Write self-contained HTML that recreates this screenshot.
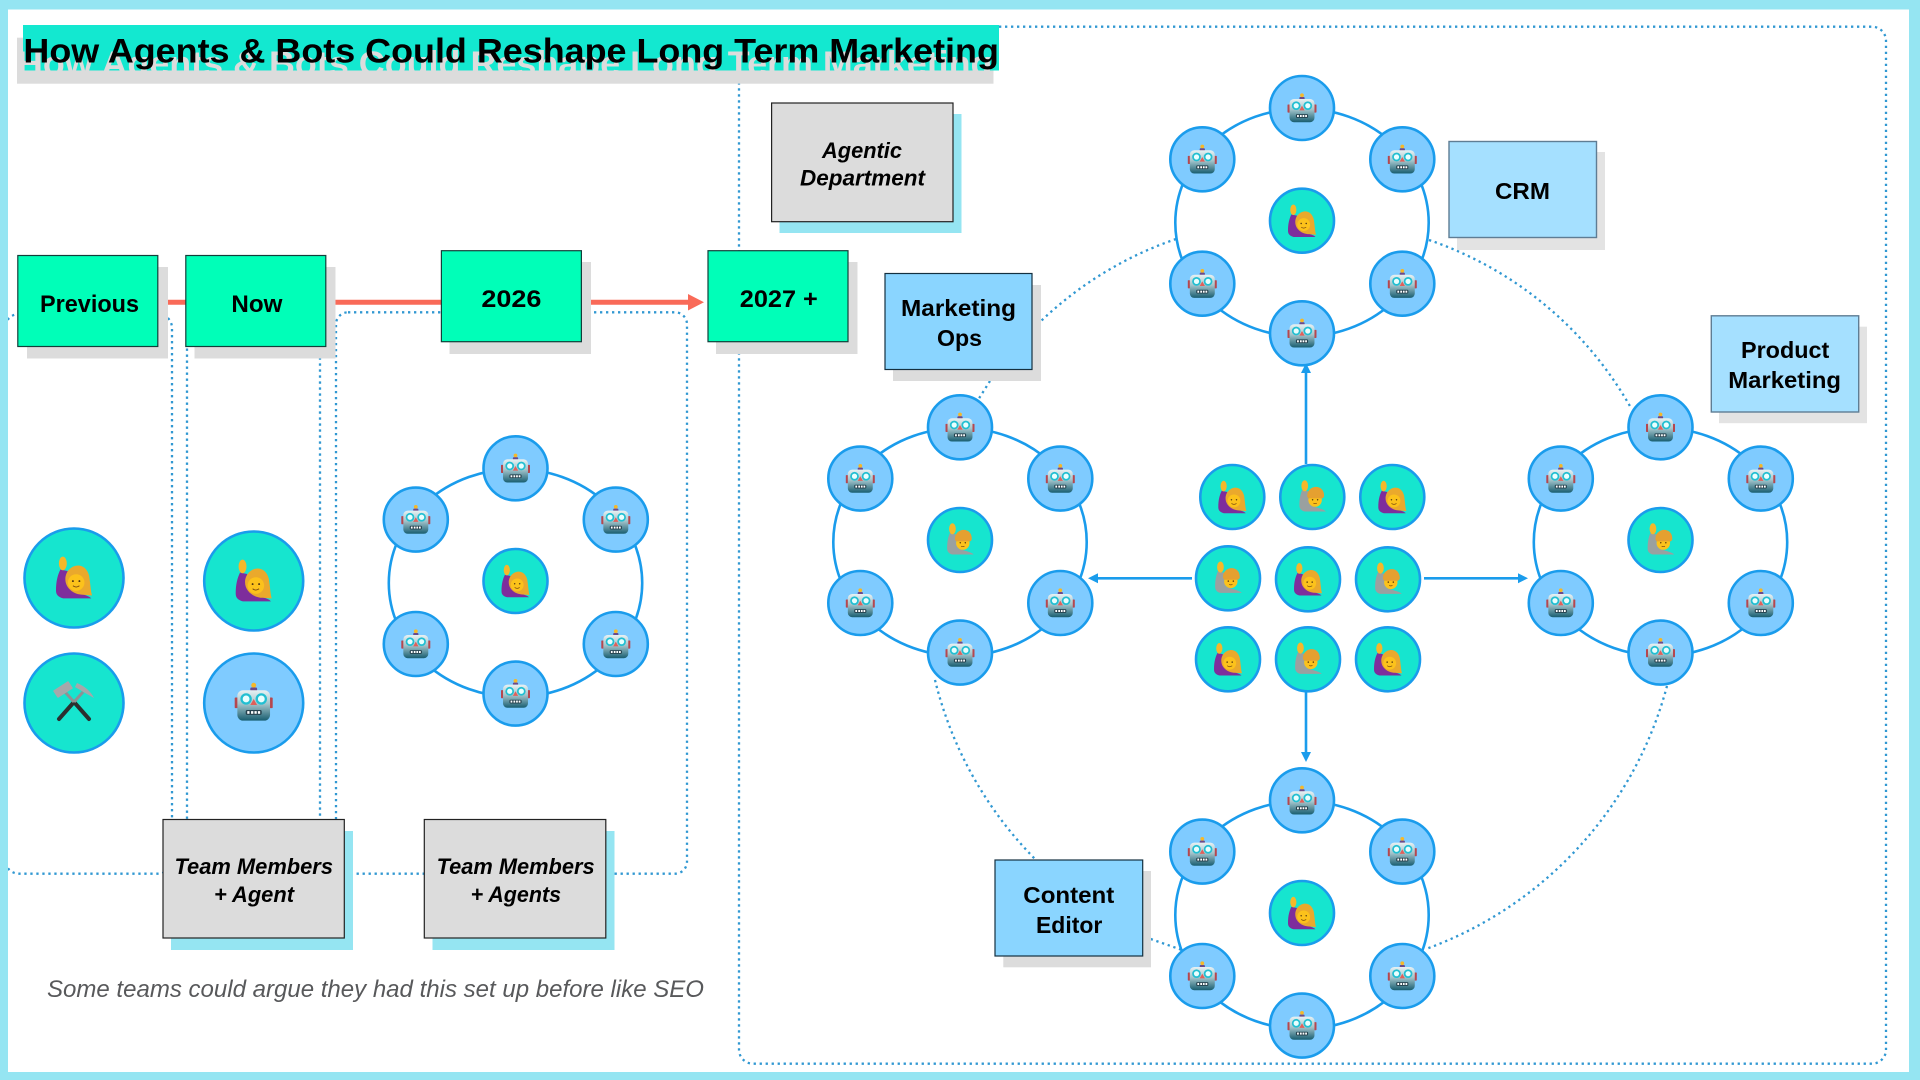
<!DOCTYPE html>
<html><head><meta charset="utf-8"><title>How Agents &amp; Bots Could Reshape Long Term Marketing</title>
<style>
html,body{margin:0;padding:0;background:#fff}
svg{display:block}
text{font-family:"Liberation Sans",sans-serif;font-weight:700;fill:#000}
</style></head><body>
<svg xmlns="http://www.w3.org/2000/svg" width="1920" height="1080" viewBox="0 0 1920 1080">
<defs>
<linearGradient id="rg" gradientUnits="userSpaceOnUse" x1="0" y1="-30" x2="0" y2="48"><stop offset="0" stop-color="#e6f0f2"/><stop offset=".45" stop-color="#a3c4cb"/><stop offset="1" stop-color="#1b6072"/></linearGradient>
<filter id="bl" x="-5%" y="-300%" width="110%" height="700%"><feGaussianBlur stdDeviation="2.5"/></filter>
<g id="robot">
<circle cx="0" cy="-44" r="6.5" fill="#f5b82a"/><rect x="-9" y="-38" width="18" height="9" rx="3" fill="#6a4a8c"/>
<rect x="-50" y="-12" width="9" height="28" rx="2" fill="#b5474f"/><rect x="41" y="-12" width="9" height="28" rx="2" fill="#b5474f"/>
<rect x="-43" y="-31" width="86" height="80" rx="15" fill="url(#rg)"/>
<circle cx="-20" cy="-8" r="12" fill="#e8ffff" stroke="#22bfd2" stroke-width="6"/><circle cx="20" cy="-8" r="12" fill="#e8ffff" stroke="#22bfd2" stroke-width="6"/>
<polygon points="0,-8 -9,8 9,8" fill="#e0605a"/>
<rect x="-21" y="21" width="42" height="13" rx="4" fill="#24404c"/>
<rect x="-17" y="24" width="6" height="7" fill="#fff"/><rect x="-7" y="24" width="6" height="7" fill="#fff"/><rect x="2" y="24" width="6" height="7" fill="#fff"/><rect x="11" y="24" width="6" height="7" fill="#fff"/>
</g>
<g id="woman">
<path d="M-50 36C-50 10-45-8-38-22L-18-18C-20 0-18 20-8 36C10 44 40 48 48 58L-30 58C-44 54-50 48-50 36Z" fill="#7e2d9c"/>
<ellipse cx="-31" cy="-39" rx="11" ry="19" fill="#f5b82a"/>
<path d="M-24 5C-24-35 30-52 42-5C46 20 46 35 50 50L25 48C0 48-24 30-24 5Z" fill="#eaa92c"/>
<circle cx="6" cy="14" r="23" fill="#fcc21b"/>
<circle cx="-3" cy="10" r="2.6" fill="#4a2f10"/><circle cx="15" cy="10" r="2.6" fill="#4a2f10"/>
<path d="M-3 23Q6 30 15 23" fill="none" stroke="#7a4a10" stroke-width="2.5"/>
</g>
<g id="man">
<path d="M-46 30C-46 5-42-12-36-25L-14-20C-16 0-14 18-6 30C12 38 40 42 49 52L-28 52C-40 48-46 42-46 30Z" fill="#9aa0a0"/>
<ellipse cx="-27" cy="-40" rx="12" ry="20" fill="#f5b82a"/>
<circle cx="10" cy="11" r="24" fill="#fcc21b"/>
<path d="M-18-2C-20-45 44-50 42-2C40 3 36 5 34 5L-14 5Z" fill="#e5a030"/>
<circle cx="1" cy="10" r="2.6" fill="#4a2f10"/><circle cx="19" cy="10" r="2.6" fill="#4a2f10"/>
<path d="M4 22Q10 25 16 22" fill="none" stroke="#7a4a10" stroke-width="2.5"/>
</g>
<g id="bot"><circle r="32" fill="#7fcbff" stroke="#1a9cec" stroke-width="2.6"/><use href="#robot" transform="scale(.29)"/></g>
<g id="wn"><circle r="32" fill="#16e5cf" stroke="#1a9cec" stroke-width="2.6"/><use href="#woman" transform="scale(.28)"/></g>
<g id="mn"><circle r="32" fill="#16e5cf" stroke="#1a9cec" stroke-width="2.6"/><use href="#man" transform="scale(.28)"/></g>
<g id="cluster">
<ellipse cx="0" cy="2" rx="126.7" ry="114" fill="none" stroke="#1a9cec" stroke-width="2.6"/>
<use href="#bot" x="0" y="-112.7"/><use href="#bot" x="-99.7" y="-61.4"/><use href="#bot" x="100.3" y="-61.4"/>
<use href="#bot" x="-99.7" y="63"/><use href="#bot" x="100.3" y="63"/><use href="#bot" x="0" y="112.6"/>
</g>
</defs>

<rect width="1920" height="1080" fill="#fff"/>

<!-- dotted frames -->
<g fill="none" stroke="#3198d2" stroke-width="2.3" stroke-dasharray="2.3 3.7">
<rect x="5" y="314" width="167" height="559.7" rx="14"/>
<rect x="187" y="290" width="133" height="590" rx="10"/>
<rect x="336" y="312.3" width="351" height="561.4" rx="12"/>
<rect x="739" y="26.7" width="1147" height="1037" rx="14"/>
<path d="M1176 239A368 368 0 0 0 1030 332"/>
<path d="M1429 240A368 368 0 0 1 1631 408"/>
<path d="M1667 686A385 385 0 0 1 1426 949"/>
<path d="M935 680A385 385 0 0 0 1038 862"/>
<path d="M990 381L978 400"/>
<path d="M1145 937L1182 950"/>
</g>

<!-- page border -->
<g fill="#95e5f2">
<rect x="0" y="0" width="1920" height="9.5"/>
<rect x="0" y="1072" width="1920" height="8"/>
<rect x="0" y="0" width="8" height="1080"/>
<rect x="1909" y="0" width="11" height="1080"/>
</g>

<!-- timeline arrow -->
<path d="M168 307H690" stroke="#999" stroke-opacity=".35" stroke-width="5" filter="url(#bl)"/>
<path d="M168 302.3H690" stroke="#f96a58" stroke-width="5"/>
<polygon points="688,294 704,302.3 688,310.5" fill="#f96a58"/>

<!-- title -->
<rect x="17" y="37.7" width="976.5" height="46" fill="#dcdcdc"/>
<rect x="23" y="25" width="976" height="45.5" fill="#13e8d0"/>
<text x="17" y="75" font-size="34" textLength="975.5" lengthAdjust="spacingAndGlyphs" style="fill:#dcdcdc">How Agents &amp; Bots Could Reshape Long Term Marketing</text>
<text x="23.4" y="62.3" font-size="34" textLength="975.5" lengthAdjust="spacingAndGlyphs">How Agents &amp; Bots Could Reshape Long Term Marketing</text>

<!-- green boxes -->
<g stroke="#123f3a" stroke-width="1.2">
<rect x="27" y="267" width="141" height="91.5" fill="#dcdcdc" stroke="none"/>
<rect x="17.8" y="255.5" width="140" height="91" fill="#00ffb8"/>
<rect x="194.5" y="267" width="141" height="91.5" fill="#dcdcdc" stroke="none"/>
<rect x="185.8" y="255.5" width="140" height="91" fill="#00ffb8"/>
<rect x="449.5" y="262" width="141.5" height="92" fill="#dcdcdc" stroke="none"/>
<rect x="441.4" y="250.7" width="140" height="91" fill="#00ffb8"/>
<rect x="716" y="262" width="141.5" height="92" fill="#dcdcdc" stroke="none"/>
<rect x="708" y="250.7" width="140" height="91" fill="#00ffb8"/>
</g>
<g font-size="24">
<text x="40" y="312" textLength="99" lengthAdjust="spacingAndGlyphs">Previous</text>
<text x="231.4" y="312" textLength="51" lengthAdjust="spacingAndGlyphs">Now</text>
<text x="481.4" y="307" textLength="60" lengthAdjust="spacingAndGlyphs">2026</text>
<text x="739.8" y="307" textLength="78" lengthAdjust="spacingAndGlyphs">2027 +</text>
</g>

<!-- grey boxes -->
<rect x="779.5" y="114" width="182" height="119" fill="#95e5f2"/>
<rect x="771.6" y="103" width="181.4" height="118.7" fill="#dcdcdc" stroke="#222" stroke-width="1.2"/>
<rect x="171" y="831" width="182" height="119" fill="#95e5f2"/>
<rect x="163" y="819.5" width="181.3" height="118.5" fill="#dcdcdc" stroke="#222" stroke-width="1.2"/>
<rect x="432.5" y="831" width="182" height="119" fill="#95e5f2"/>
<rect x="424.3" y="819.5" width="181.5" height="118.5" fill="#dcdcdc" stroke="#222" stroke-width="1.2"/>
<g font-size="22" font-style="italic">
<text x="822" y="158" textLength="80" lengthAdjust="spacingAndGlyphs">Agentic</text>
<text x="800" y="185.5" textLength="125" lengthAdjust="spacingAndGlyphs">Department</text>
<text x="174.5" y="874" textLength="158.5" lengthAdjust="spacingAndGlyphs">Team Members</text>
<text x="214" y="902" textLength="80" lengthAdjust="spacingAndGlyphs">+ Agent</text>
<text x="436.6" y="874" textLength="158" lengthAdjust="spacingAndGlyphs">Team Members</text>
<text x="470.6" y="902" textLength="90.5" lengthAdjust="spacingAndGlyphs">+ Agents</text>
</g>
<text x="47" y="997" font-size="24" font-style="italic" textLength="657" lengthAdjust="spacingAndGlyphs" style="font-weight:400;fill:#58595b">Some teams could argue they had this set up before like SEO</text>

<!-- blue boxes -->
<rect x="893" y="285" width="148" height="96" fill="#dcdcdc"/>
<rect x="885" y="273.5" width="147" height="96" fill="#8ad5ff" stroke="#14303f" stroke-width="1.2"/>
<rect x="1457" y="152" width="148" height="98" fill="#e3e3e3"/>
<rect x="1449" y="141.5" width="147.5" height="96" fill="#a5e0ff" stroke="#5f7d94" stroke-width="1.4"/>
<rect x="1719" y="326.7" width="148" height="96.5" fill="#e3e3e3"/>
<rect x="1711.3" y="315.8" width="147.4" height="96.2" fill="#a5e0ff" stroke="#5f7d94" stroke-width="1.4"/>
<rect x="1003.3" y="871" width="147.7" height="96.3" fill="#dcdcdc"/>
<rect x="995" y="860" width="147.7" height="96" fill="#8ad5ff" stroke="#14303f" stroke-width="1.2"/>
<g font-size="23.5">
<text x="901" y="316" textLength="115" lengthAdjust="spacingAndGlyphs">Marketing</text>
<text x="937" y="346" textLength="45" lengthAdjust="spacingAndGlyphs">Ops</text>
<text x="1495" y="199" textLength="55" lengthAdjust="spacingAndGlyphs">CRM</text>
<text x="1741" y="358" textLength="88.3" lengthAdjust="spacingAndGlyphs">Product</text>
<text x="1728.3" y="388" textLength="112.7" lengthAdjust="spacingAndGlyphs">Marketing</text>
<text x="1023.3" y="903" textLength="91" lengthAdjust="spacingAndGlyphs">Content</text>
<text x="1036" y="933" textLength="66.3" lengthAdjust="spacingAndGlyphs">Editor</text>
</g>

<!-- arrows -->
<g stroke="#1a9cec" stroke-width="2.6" fill="none">
<path d="M1306 464V372"/><path d="M1306 692V752"/><path d="M1192 578.3H1098"/><path d="M1424 578.3H1518"/>
</g>
<g fill="#1a9cec">
<polygon points="1306,363 1301,373 1311,373"/>
<polygon points="1306,762 1301,752 1311,752"/>
<polygon points="1088,578.3 1098,573.3 1098,583.3"/>
<polygon points="1528,578.3 1518,573.3 1518,583.3"/>
</g>

<!-- clusters -->
<use href="#cluster" x="515.5" y="581"/><use href="#wn" x="515.5" y="581"/>
<use href="#cluster" x="1302" y="220.7"/><use href="#wn" x="1302" y="220.7"/>
<use href="#cluster" x="960" y="540"/><use href="#mn" x="960" y="540"/>
<use href="#cluster" x="1660.5" y="540"/><use href="#mn" x="1660.5" y="540"/>
<use href="#cluster" x="1302" y="913"/><use href="#wn" x="1302" y="913"/>

<!-- centre grid -->
<use href="#wn" x="1232.3" y="497"/><use href="#mn" x="1312.3" y="497"/><use href="#wn" x="1392.3" y="497"/>
<use href="#mn" x="1228" y="578.3"/><use href="#wn" x="1308" y="579.3"/><use href="#mn" x="1388" y="579.3"/>
<use href="#wn" x="1228" y="659.3"/><use href="#mn" x="1308" y="659.3"/><use href="#wn" x="1388" y="659.3"/>

<!-- big timeline nodes -->
<g stroke="#1a9cec" stroke-width="2.6">
<circle cx="74" cy="578" r="49.5" fill="#16e5cf"/>
<circle cx="74" cy="703" r="49.5" fill="#16e5cf"/>
<circle cx="253.7" cy="581" r="49.5" fill="#16e5cf"/>
<circle cx="253.7" cy="703" r="49.5" fill="#7fcbff"/>
</g>
<use href="#woman" transform="translate(74 577.5) scale(.36 .36)"/>
<use href="#woman" transform="translate(253.7 580.5) scale(.36 .36)"/>
<use href="#robot" transform="translate(253.7 702) scale(.38)"/>
<g transform="translate(74 702)">
<path d="M-15 17L0 0" stroke="#2b2f30" stroke-width="4" stroke-linecap="round"/>
<path d="M15 17L0 0" stroke="#2b2f30" stroke-width="4" stroke-linecap="round"/>
<path d="M0 0L9-10" stroke="#8d9294" stroke-width="3"/>
<path d="M0 0L-9-10" stroke="#8d9294" stroke-width="3"/>
<polygon points="-20,-11 -16,-5 -2,-14 -6,-20" fill="#a5a8aa" stroke="#a5a8aa" stroke-width="1.5" stroke-linejoin="round"/>
<path d="M3-19Q15-14 20-4Q11-9 1-15Z" fill="#a5a8aa"/>
</g>
</svg>
</body></html>
